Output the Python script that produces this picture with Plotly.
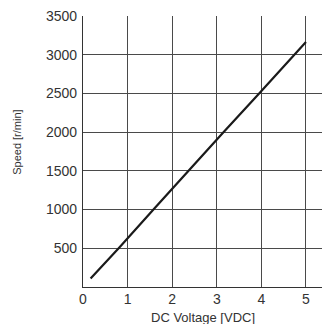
import plotly.graph_objects as go

voltage = [0.17, 0.80, 1.58, 2.36, 3.15, 3.95, 4.50, 4.73, 5.00]
speed = [110, 500, 1000, 1500, 2000, 2500, 2850, 3000, 3165]

x_ticks = [0, 1, 2, 3, 4, 5]
y_ticks = [500, 1000, 1500, 2000, 2500, 3000, 3500]

FONT = "Liberation Sans"
fig = go.Figure()
fig.add_trace(go.Scatter(x=voltage, y=speed, mode="lines",
                         line=dict(color="#1a1a1a", width=2.2), hoverinfo="skip"))

fig.update_layout(
    width=322, height=324,
    margin=dict(l=83, r=0, t=16, b=37, autoexpand=False),
    paper_bgcolor="white", plot_bgcolor="white",
    showlegend=False,
    font=dict(family=FONT, color="#333"),
    xaxis=dict(range=[0, 5.36], tickvals=x_ticks, ticktext=[str(v) for v in x_ticks],
               automargin=False,
               showgrid=True, gridcolor="#4a4a4a", gridwidth=1,
               showline=True, linecolor="#333", linewidth=1.2,
               zeroline=False, ticks="", tickfont=dict(size=14, family=FONT, color="#333"),
               ticklabelstandoff=-1),
    yaxis=dict(range=[0, 3500], tickvals=y_ticks, ticktext=[str(v) for v in y_ticks],
               automargin=False,
               showgrid=True, gridcolor="#4a4a4a", gridwidth=1,
               showline=True, linecolor="#333", linewidth=1.2,
               zeroline=False, ticks="", tickfont=dict(size=14, family=FONT, color="#333"),
               ticklabelstandoff=2),
    annotations=[
        dict(text="DC Voltage [VDC]", xref="paper", yref="paper", x=0.502, y=-0.112,
             xanchor="center", yanchor="middle", showarrow=False,
             font=dict(size=13, family=FONT, color="#333")),
        dict(text="Speed [r/min]", xref="paper", yref="paper", x=-0.277, y=0.535,
             xanchor="center", yanchor="middle", showarrow=False, textangle=-90,
             font=dict(size=11, family=FONT, color="#333")),
    ],
)

fig.write_html("out.html", config={"displayModeBar": False},
               post_script="document.body.style.margin='0';document.body.style.overflow='hidden';")
